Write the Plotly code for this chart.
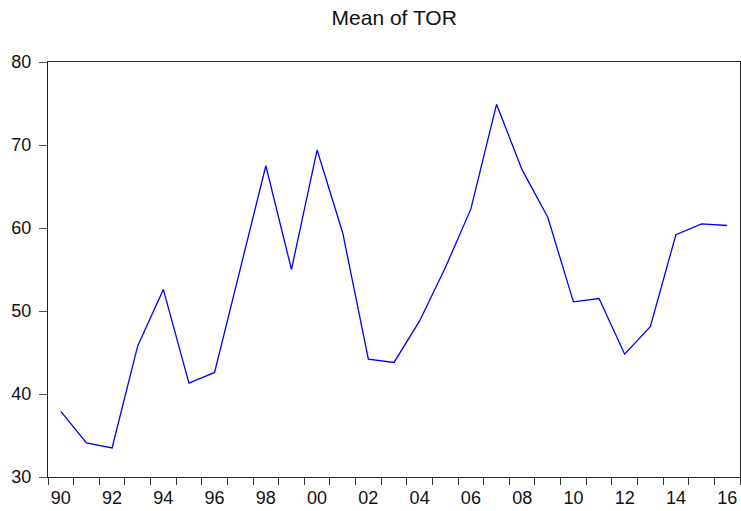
import plotly.graph_objects as go

# annual means of TOR, 1990-2016
years = list(range(1990, 2017))
tor_mean = [37.9, 34.1, 33.5, 45.8, 52.6, 41.3, 42.6, 55.0, 67.5, 55.0,
            69.4, 59.4, 44.2, 43.8, 48.8, 55.2, 62.3, 74.9, 67.0, 61.3,
            51.1, 51.5, 44.8, 48.1, 59.2, 60.5, 60.3]

# each year is drawn at the middle of its period, ticks sit on the year boundaries
x_mid = [y + 0.5 for y in years]
label_years = [y for y in years if y % 2 == 0]
label_pos = [y + 0.5 for y in label_years]
label_text = [str(y)[2:] for y in label_years]
bounds = list(range(years[0], years[-1] + 2))

font_fam = "Arial, Liberation Sans, sans-serif"

fig = go.Figure()
fig.add_trace(go.Scatter(
    x=x_mid, y=tor_mean, mode="lines",
    line=dict(color="#0000FF", width=1.3),
    showlegend=False,
))

fig.update_layout(
    width=741, height=511,
    paper_bgcolor="white", plot_bgcolor="white",
    margin=dict(l=48, r=1, t=62, b=34),
    title=dict(text="Mean of TOR", x=0.532, xanchor="center",
               y=1 - 18 / 511, yref="container", yanchor="middle",
               font=dict(family=font_fam, size=21, color="#111")),
)

fig.update_xaxes(
    range=[bounds[0], bounds[-1]], automargin=False,
    tickmode="array", tickvals=label_pos, ticktext=label_text,
    ticks="outside", ticklen=0, tickangle=0, ticklabelstandoff=4,
    minor=dict(tickmode="array", tickvals=bounds, ticks="outside",
               ticklen=7, tickcolor="#333", showgrid=False),
    showline=True, linecolor="#222", linewidth=1, mirror=True,
    showgrid=False, zeroline=False,
    tickfont=dict(family=font_fam, size=18, color="#111"),
)
fig.update_yaxes(
    range=[30, 80], dtick=10, automargin=False,
    ticks="outside", ticklen=8, tickcolor="#555", ticklabelstandoff=4,
    showline=True, linecolor="#222", linewidth=1, mirror=True,
    showgrid=False, zeroline=False,
    tickfont=dict(family=font_fam, size=18, color="#111"),
)

# drop the page's default 8px body margin so the figure fills the window
fig.write_html("out.html", config={"displayModeBar": False},
               post_script="document.body.style.margin='0';")
